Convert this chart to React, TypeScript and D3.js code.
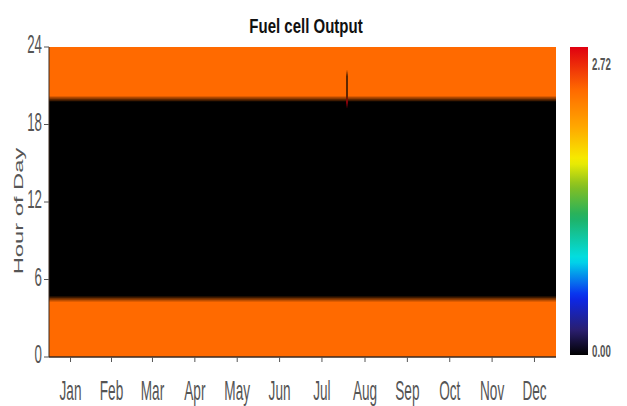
import React, { useMemo } from "react";
import * as d3 from "d3";

// Fuel cell output (kW) by half-hour slot of the day, same pattern every day
const halfHourProfile = [
  2.34, 2.34, 2.34, 2.34, 2.34, 2.34, 2.34, 2.34, 2.34,
  0, 0, 0, 0, 0, 0, 0, 0, 0, 0, 0, 0, 0, 0, 0, 0, 0, 0, 0, 0, 0, 0,
  0, 0, 0, 0, 0, 0, 0, 0, 0,
  2.34, 2.34, 2.34, 2.34, 2.34, 2.34, 2.34, 2.34,
];
// One irregular evening in early August: early start, then a short trip
const eventDay = 214;
const eventSlots = [39, 40, 41, 42, 43];
const eventValues = [2.72, 0, 0, 0, 0];

const months = ["Jan", "Feb", "Mar", "Apr", "May", "Jun", "Jul", "Aug", "Sep", "Oct", "Nov", "Dec"];
const daysInMonth = [31, 28, 31, 30, 31, 30, 31, 31, 30, 31, 30, 31];
const hourTicks = [0, 6, 12, 18, 24];
const colorMin = 0;
const colorMax = 2.72;

const colorFractions = [0, 0.08, 0.19, 0.31, 0.45, 0.55, 0.63, 0.74, 0.86, 1.0];
const colorStops = ["#000000", "#2a1e6e", "#0a28f0", "#00e0e8", "#20b060", "#88c020", "#f5f000", "#ffa800", "#ff6a00", "#e00010"];

const W = 627;
const H = 406;
const plot = { left: 49, top: 47, right: 556, bottom: 357 };
const bar = { x: 570, w: 18, top: 47, bottom: 355 };
const FONT = "'Liberation Sans', Arial, sans-serif";

const TOTAL_DAYS = d3.sum(daysInMonth);
const SLOTS = halfHourProfile.length;

// text drawn with separate horizontal / vertical scaling (tall, narrow lettering)
function SText(props: {
  x: number;
  y: number;
  sx: number;
  sy: number;
  size: number;
  anchor?: string;
  weight?: string;
  fill?: string;
  rotate?: number;
  children: React.ReactNode;
}) {
  const { x, y, sx, sy, size, anchor = "start", weight = "normal", fill = "#444", rotate = 0 } = props;
  return (
    <text
      transform={`translate(${x},${y}) rotate(${rotate}) scale(${sx},${sy})`}
      textAnchor={anchor}
      fontFamily={FONT}
      fontSize={size}
      fontWeight={weight}
      fill={fill}
    >
      {props.children}
    </text>
  );
}

export default function App() {
  const color = useMemo(
    () =>
      d3
        .scaleLinear<string>()
        .domain(colorFractions.map((f) => colorMin + f * (colorMax - colorMin)))
        .range(colorStops)
        .interpolate(d3.interpolateRgb)
        .clamp(true),
    []
  );

  const x = d3.scaleLinear().domain([0, TOTAL_DAYS]).range([plot.left, plot.right]);
  const y = d3.scaleLinear().domain([0, 24]).range([plot.bottom, plot.top]);

  // day x slot grid rendered to a small raster, then stretched (smoothed) over the plot
  const href = useMemo(() => {
    const canvas = document.createElement("canvas");
    canvas.width = TOTAL_DAYS;
    canvas.height = SLOTS;
    const ctx = canvas.getContext("2d");
    if (!ctx) return "";
    const img = ctx.createImageData(TOTAL_DAYS, SLOTS);
    for (let d = 0; d < TOTAL_DAYS; d++) {
      for (let s = 0; s < SLOTS; s++) {
        let v = halfHourProfile[s];
        if (d === eventDay) {
          const k = eventSlots.indexOf(s);
          if (k >= 0) v = eventValues[k];
        }
        const c = d3.rgb(color(v));
        const row = SLOTS - 1 - s;
        const i = (row * TOTAL_DAYS + d) * 4;
        img.data[i] = c.r;
        img.data[i + 1] = c.g;
        img.data[i + 2] = c.b;
        img.data[i + 3] = 255;
      }
    }
    ctx.putImageData(img, 0, 0);
    return canvas.toDataURL();
  }, [color]);

  const monthStarts = d3.cumsum([0, ...daysInMonth]);
  const monthCenters = months.map((_, i) => (monthStarts[i] + monthStarts[i + 1]) / 2);

  const gradStops = d3.range(0, 1.0001, 0.02);

  return (
    <svg width={W} height={H} style={{ display: "block", position: "absolute", left: 0, top: 0 }}>
      <defs>
        <linearGradient id="cbarGrad" x1="0" y1="1" x2="0" y2="0">
          {gradStops.map((f) => (
            <stop key={f} offset={f} stopColor={color(colorMin + f * (colorMax - colorMin))} />
          ))}
        </linearGradient>
      </defs>
      <rect width={W} height={H} fill="#fff" />

      <SText x={306} y={33} sx={1.0} sy={1.4} size={15} anchor="middle" weight="bold" fill="#111">
        Fuel cell Output
      </SText>

      <image
        href={href}
        x={x(0)}
        y={y(24)}
        width={x(TOTAL_DAYS) - x(0)}
        height={y(0) - y(24)}
        preserveAspectRatio="none"
      />

      {/* y axis */}
      <line x1={plot.left} x2={plot.left} y1={plot.top} y2={plot.bottom} stroke="#3a2a20" strokeWidth={1} />
      {hourTicks.map((h) => (
        <g key={h}>
          <line x1={plot.left - 5} x2={plot.left} y1={y(h)} y2={y(h)} stroke="#555" />
          <SText x={plot.left - 7} y={y(h) + 6} sx={0.95} sy={1.8} size={14} anchor="end" fill="#555">
            {h}
          </SText>
        </g>
      ))}
      <SText x={23} y={211} sx={1.9} sy={1.0} size={12.5} anchor="middle" rotate={-90} fill="#555">
        Hour of Day
      </SText>

      {/* x axis */}
      <line x1={plot.left} x2={plot.right} y1={plot.bottom} y2={plot.bottom} stroke="#3a2a20" strokeWidth={1.5} />
      {monthCenters.map((c, i) => (
        <g key={months[i]}>
          <line x1={x(c)} x2={x(c)} y1={plot.bottom} y2={plot.bottom + 5} stroke="#555" />
          <SText x={x(c)} y={400} sx={0.85} sy={1.75} size={16} anchor="middle" fill="#555">
            {months[i]}
          </SText>
        </g>
      ))}

      {/* colour bar */}
      <rect x={bar.x} y={bar.top} width={bar.w} height={bar.bottom - bar.top} fill="url(#cbarGrad)" />
      <SText x={bar.x + bar.w + 4} y={70} sx={0.88} sy={1.5} size={11} weight="bold" fill="#555">
        {colorMax.toFixed(2)}
      </SText>
      <SText x={bar.x + bar.w + 4} y={357} sx={0.88} sy={1.5} size={11} weight="bold" fill="#555">
        {colorMin.toFixed(2)}
      </SText>
    </svg>
  );
}
